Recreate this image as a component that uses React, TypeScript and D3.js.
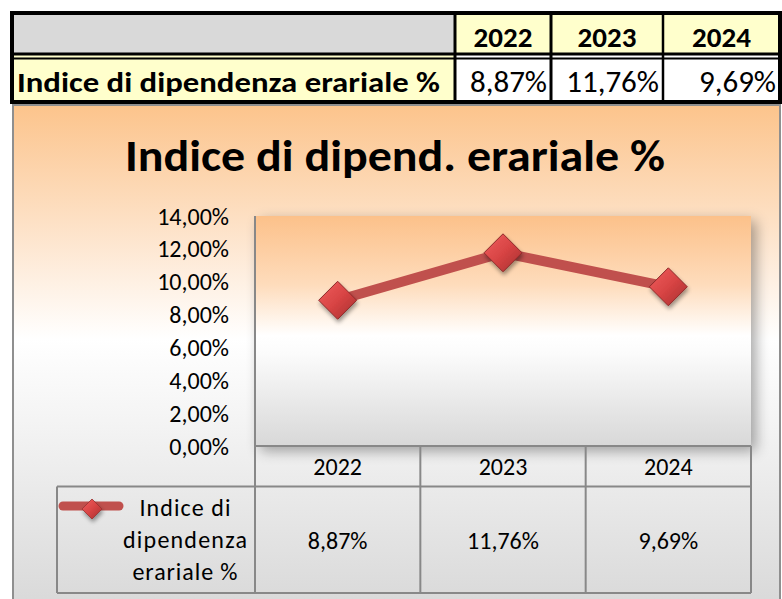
import React from "react";
import * as d3 from "d3";

const categories = ["2022", "2023", "2024"];
const values = [8.87, 11.76, 9.69];
const seriesName = "Indice di dipendenza erariale %";
const legendLines = ["Indice di", "dipendenza", "erariale %"];
const legendWidths = [91, 124, 105];
const chartTitle = "Indice di dipend. erariale %";
const yMax = 14;
const yStep = 2;

const FONT = "Carlito, Calibri, Lato, 'Liberation Sans', sans-serif";

const itLocale = d3.formatLocale({ decimal: ",", thousands: ".", grouping: [3], currency: ["€", ""] });
const fmt2 = itLocale.format(".2f");
const pct = (v: number) => fmt2(v) + "%";

export default function App() {
  const W = 782;
  const H = 599;
  const px0 = 255, px1 = 751, py0 = 216, py1 = 446;
  const x = d3.scaleBand<string>().domain(categories).range([px0, px1]).padding(0);
  const y = d3.scaleLinear().domain([0, yMax]).range([py1, py0]);
  const yTicks = d3.range(0, yMax + yStep / 2, yStep);
  const cx = (c: string) => (x(c) as number) + x.bandwidth() / 2;
  const pts: [number, number][] = categories.map((c, i) => [cx(c), y(values[i])]);
  const linePath = d3.line()(pts) || "";
  const diamond = (r: number) => `M0,${-r}L${r},0L0,${r}L${-r},0Z`;

  const colX = [12, 455, 551, 663, 780];
  const tTop = 13, tMid = 54, tBot = 102;

  const tableTop = 486.5, tableBot = 593, legendX = 57;

  return (
    <svg width={W} height={H} style={{ position: "absolute", left: 0, top: 0 }} fontFamily={FONT}>
      <defs>
        <linearGradient id="bgGrad" x1="0" y1="0" x2="0" y2="1">
          <stop offset="0" stopColor="#fcc48c" />
          <stop offset="0.22" stopColor="#fde0c4" />
          <stop offset="0.45" stopColor="#ffffff" />
          <stop offset="0.62" stopColor="#f3f3f3" />
          <stop offset="1" stopColor="#d6d6d6" />
        </linearGradient>
        <linearGradient id="plotGrad" x1="0" y1="0" x2="0" y2="1">
          <stop offset="0" stopColor="#fcc18a" />
          <stop offset="0.3" stopColor="#fedcbc" />
          <stop offset="0.52" stopColor="#ffffff" />
          <stop offset="0.6" stopColor="#fbfbfb" />
          <stop offset="1" stopColor="#d8d8d8" />
        </linearGradient>
        <linearGradient id="markGrad" x1="0" y1="0" x2="1" y2="1">
          <stop offset="0" stopColor="#f06060" />
          <stop offset="0.5" stopColor="#d84444" />
          <stop offset="1" stopColor="#a52e2e" />
        </linearGradient>
        <filter id="plotShadow" x="-10%" y="-10%" width="125%" height="130%">
          <feGaussianBlur in="SourceAlpha" stdDeviation="7" />
          <feOffset dx="5" dy="5" result="b" />
          <feComponentTransfer>
            <feFuncA type="linear" slope="0.35" />
          </feComponentTransfer>
          <feMerge>
            <feMergeNode />
            <feMergeNode in="SourceGraphic" />
          </feMerge>
        </filter>
        <filter id="markShadow" x="-50%" y="-50%" width="200%" height="200%">
          <feGaussianBlur in="SourceAlpha" stdDeviation="2" />
          <feOffset dx="1" dy="3" result="b" />
          <feComponentTransfer>
            <feFuncA type="linear" slope="0.4" />
          </feComponentTransfer>
          <feMerge>
            <feMergeNode />
            <feMergeNode in="SourceGraphic" />
          </feMerge>
        </filter>
      </defs>
      <rect width={W} height={H} fill="#ffffff" />

      {/* top table */}
      <rect x={colX[0]} y={tTop} width={colX[1] - colX[0]} height={tMid - tTop} fill="#d9d9d9" />
      <rect x={colX[1]} y={tTop} width={colX[4] - colX[1]} height={tMid - tTop} fill="#ffffcc" />
      <rect x={colX[0]} y={tMid} width={colX[1] - colX[0]} height={tBot - tMid} fill="#ffffcc" />
      <rect x={colX[1]} y={tMid} width={colX[4] - colX[1]} height={tBot - tMid} fill="#ffffff" />
      {categories.map((c, i) => (
        <text key={"h" + c} x={(colX[i + 1] + colX[i + 2]) / 2} y={47} textAnchor="middle"
          fontSize={29} fontWeight="bold" fill="#000">{c}</text>
      ))}
      <text x={17} y={92} fontSize={29} fontWeight="bold" textLength={423} lengthAdjust="spacingAndGlyphs">{seriesName}</text>
      {categories.map((c, i) => (
        <text key={"v" + c} x={colX[i + 2] - 4} y={92} textAnchor="end" fontSize={31} fill="#000">{pct(values[i])}</text>
      ))}
      <line x1={colX[0]} x2={colX[4]} y1={54} y2={54} stroke="#000" strokeWidth={3} />
      <line x1={colX[0]} x2={colX[4]} y1={58.5} y2={58.5} stroke="#000" strokeWidth={2} />
      {colX.slice(1, 4).map((cxv, i) => (
        <line key={"cv" + i} x1={cxv} x2={cxv} y1={tTop} y2={tBot} stroke="#000" strokeWidth={i === 2 ? 2.5 : 3} />
      ))}
      <rect x={colX[0]} y={tTop} width={colX[4] - colX[0]} height={tBot - tTop} fill="none" stroke="#000" strokeWidth={4} />

      {/* chart area */}
      <rect x={13} y={105} width={767} height={520} fill="url(#bgGrad)" stroke="#8f8f8f" strokeWidth={2} />
      <text x={395} y={171} textAnchor="middle" fontSize={44} fontWeight="bold" fill="#000"
        textLength={540} lengthAdjust="spacingAndGlyphs">{chartTitle}</text>

      {/* plot area */}
      <rect x={px0} y={py0} width={px1 - px0} height={py1 - py0} fill="url(#plotGrad)" filter="url(#plotShadow)" />

      {/* y axis labels */}
      {yTicks.map((t) => (
        <text key={"yt" + t} x={229} y={y(t) + 8.5} textAnchor="end" fontSize={24} fill="#000">{pct(t)}</text>
      ))}

      {/* data table */}
      <g stroke="#888888" strokeWidth={2} fill="none">
        <line x1={px0} x2={px0} y1={py0} y2={tableBot} />
        <line x1={px0} x2={px1} y1={py1} y2={py1} />
        <line x1={legendX} x2={px1} y1={tableTop} y2={tableTop} />
        <line x1={legendX} x2={px1} y1={tableBot} y2={tableBot} />
        <line x1={legendX} x2={legendX} y1={tableTop} y2={tableBot} />
        {categories.map((c) => {
          const xe = (x(c) as number) + x.bandwidth();
          return <line key={"tv" + c} x1={xe} x2={xe} y1={py1} y2={tableBot} />;
        })}
      </g>
      {categories.map((c, i) => (
        <g key={"tc" + c}>
          <text x={cx(c)} y={475} textAnchor="middle" fontSize={24} fill="#000">{c}</text>
          <text x={cx(c)} y={549} textAnchor="middle" fontSize={24} fill="#000">{pct(values[i])}</text>
        </g>
      ))}

      {/* legend */}
      <line x1={63} x2={119} y1={506} y2={506} stroke="#c0504d" strokeWidth={9} strokeLinecap="round" />
      <path d={diamond(10)} transform="translate(92,509)" fill="url(#markGrad)" stroke="#9a3030" strokeWidth={0.8} filter="url(#markShadow)" />
      {legendLines.map((l, i) => (
        <text key={"lg" + i} x={185} y={516 + i * 32} textAnchor="middle" fontSize={24} fill="#000"
          textLength={legendWidths[i]} lengthAdjust="spacing">{l}</text>
      ))}

      {/* series */}
      <path d={linePath} fill="none" stroke="#c0504d" strokeWidth={10} strokeLinejoin="round" />
      {pts.map((p, i) => (
        <path key={"m" + i} d={diamond(19)} transform={`translate(${p[0]},${p[1]})`} fill="url(#markGrad)"
          stroke="#8e2b2b" strokeWidth={1} filter="url(#markShadow)" />
      ))}
    </svg>
  );
}
